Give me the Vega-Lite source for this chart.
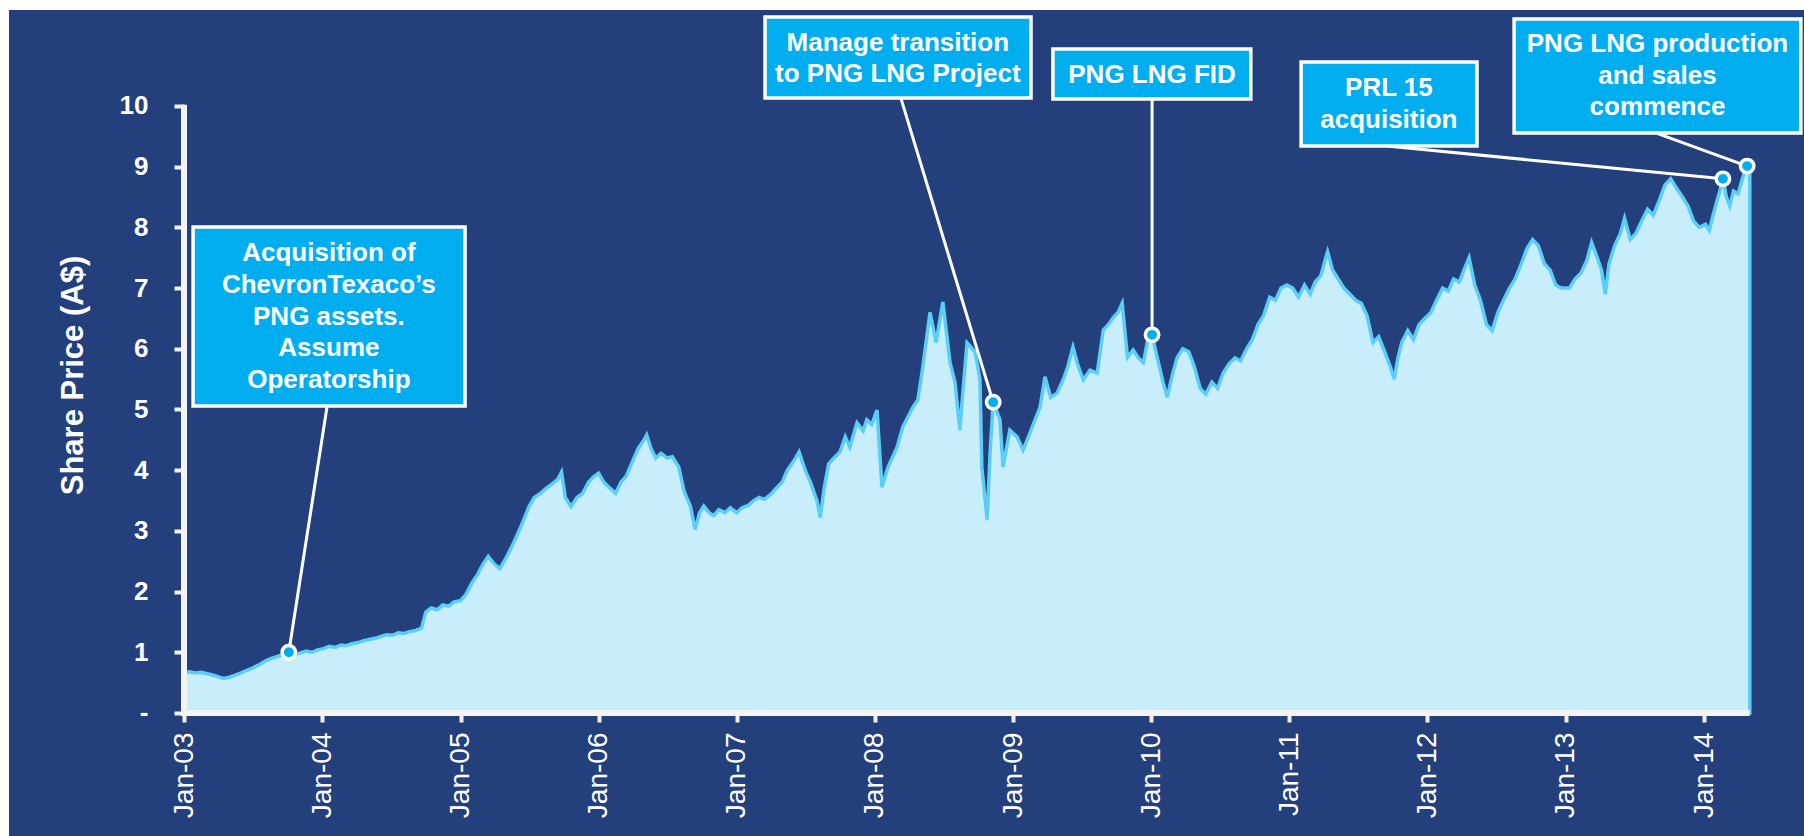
{
  "$schema": "https://vega.github.io/schema/vega-lite/v6.json",
  "width": 1795,
  "height": 826,
  "autosize": {"type": "none"},
  "padding": {"left": 9, "top": 10, "right": 0, "bottom": 0},
  "background": "#ffffff",
  "config": {
    "view": {"fill": "#24407C", "stroke": null},
    "font": "Liberation Sans"
  },
  "datasets": {
    "series": [
      {"d":"2003-01-02","p":0.66},{"d":"2003-01-15","p":0.68},{"d":"2003-02-01","p":0.66},{"d":"2003-02-15","p":0.67},
      {"d":"2003-03-01","p":0.65},{"d":"2003-03-15","p":0.63},{"d":"2003-04-01","p":0.60},{"d":"2003-04-15","p":0.57},
      {"d":"2003-05-01","p":0.59},{"d":"2003-05-15","p":0.62},{"d":"2003-06-01","p":0.66},{"d":"2003-06-15","p":0.70},
      {"d":"2003-07-01","p":0.74},{"d":"2003-07-20","p":0.80},{"d":"2003-08-05","p":0.86},{"d":"2003-08-20","p":0.90},
      {"d":"2003-09-05","p":0.93},{"d":"2003-09-20","p":0.96},{"d":"2003-10-05","p":1.00},{"d":"2003-10-20","p":0.97},
      {"d":"2003-11-05","p":0.99},{"d":"2003-11-20","p":1.02},{"d":"2003-12-05","p":1.00},{"d":"2003-12-20","p":1.04},
      {"d":"2004-01-05","p":1.06},{"d":"2004-01-20","p":1.10},{"d":"2004-02-05","p":1.08},{"d":"2004-02-20","p":1.12},
      {"d":"2004-03-05","p":1.11},{"d":"2004-03-20","p":1.14},{"d":"2004-04-05","p":1.16},{"d":"2004-04-20","p":1.19},
      {"d":"2004-05-05","p":1.21},{"d":"2004-05-20","p":1.23},{"d":"2004-06-05","p":1.26},{"d":"2004-06-20","p":1.29},
      {"d":"2004-07-05","p":1.28},{"d":"2004-07-20","p":1.32},{"d":"2004-08-05","p":1.31},{"d":"2004-08-20","p":1.34},
      {"d":"2004-09-05","p":1.36},{"d":"2004-09-20","p":1.40},{"d":"2004-10-01","p":1.66},{"d":"2004-10-15","p":1.73},
      {"d":"2004-11-01","p":1.70},{"d":"2004-11-15","p":1.78},{"d":"2004-12-01","p":1.76},{"d":"2004-12-15","p":1.83},
      {"d":"2005-01-01","p":1.85},{"d":"2005-01-15","p":1.95},{"d":"2005-02-01","p":2.15},{"d":"2005-02-15","p":2.28},
      {"d":"2005-03-01","p":2.45},{"d":"2005-03-15","p":2.58},{"d":"2005-04-01","p":2.45},{"d":"2005-04-15","p":2.38},
      {"d":"2005-05-01","p":2.55},{"d":"2005-05-15","p":2.72},{"d":"2005-06-01","p":2.95},{"d":"2005-06-15","p":3.15},
      {"d":"2005-07-01","p":3.40},{"d":"2005-07-15","p":3.55},{"d":"2005-08-01","p":3.62},{"d":"2005-08-15","p":3.70},
      {"d":"2005-09-01","p":3.78},{"d":"2005-09-15","p":3.85},{"d":"2005-09-25","p":3.97},{"d":"2005-10-05","p":3.55},
      {"d":"2005-10-20","p":3.40},{"d":"2005-11-05","p":3.55},{"d":"2005-11-20","p":3.62},{"d":"2005-12-05","p":3.80},
      {"d":"2005-12-20","p":3.90},
      {"d":"2006-01-01","p":3.95},{"d":"2006-01-15","p":3.80},{"d":"2006-02-01","p":3.70},{"d":"2006-02-15","p":3.62},
      {"d":"2006-03-01","p":3.80},{"d":"2006-03-15","p":3.90},{"d":"2006-04-01","p":4.15},{"d":"2006-04-15","p":4.35},
      {"d":"2006-05-01","p":4.50},{"d":"2006-05-08","p":4.58},{"d":"2006-05-20","p":4.35},{"d":"2006-06-01","p":4.20},
      {"d":"2006-06-15","p":4.28},{"d":"2006-07-01","p":4.20},{"d":"2006-07-15","p":4.22},{"d":"2006-08-01","p":4.05},
      {"d":"2006-08-15","p":3.65},{"d":"2006-09-01","p":3.40},{"d":"2006-09-13","p":3.02},{"d":"2006-09-25","p":3.30},
      {"d":"2006-10-06","p":3.41},{"d":"2006-10-20","p":3.30},{"d":"2006-11-01","p":3.25},{"d":"2006-11-15","p":3.35},
      {"d":"2006-12-01","p":3.30},{"d":"2006-12-15","p":3.38},
      {"d":"2007-01-01","p":3.30},{"d":"2007-01-15","p":3.38},{"d":"2007-02-01","p":3.42},{"d":"2007-02-15","p":3.50},
      {"d":"2007-03-01","p":3.55},{"d":"2007-03-15","p":3.52},{"d":"2007-04-01","p":3.60},{"d":"2007-04-15","p":3.70},
      {"d":"2007-05-01","p":3.80},{"d":"2007-05-15","p":4.00},{"d":"2007-06-01","p":4.15},{"d":"2007-06-15","p":4.30},
      {"d":"2007-07-01","p":4.00},{"d":"2007-07-15","p":3.80},{"d":"2007-08-01","p":3.50},{"d":"2007-08-10","p":3.22},
      {"d":"2007-08-20","p":3.70},{"d":"2007-09-01","p":4.10},{"d":"2007-09-15","p":4.20},{"d":"2007-10-01","p":4.30},
      {"d":"2007-10-15","p":4.55},{"d":"2007-10-27","p":4.38},{"d":"2007-11-15","p":4.78},{"d":"2007-12-01","p":4.65},
      {"d":"2007-12-11","p":4.83},{"d":"2007-12-24","p":4.75},
      {"d":"2008-01-07","p":4.99},{"d":"2008-01-20","p":3.72},{"d":"2008-02-05","p":4.05},{"d":"2008-02-29","p":4.38},
      {"d":"2008-03-15","p":4.71},{"d":"2008-04-11","p":5.04},{"d":"2008-04-24","p":5.16},{"d":"2008-05-07","p":5.70},
      {"d":"2008-05-26","p":6.60},{"d":"2008-06-11","p":6.10},{"d":"2008-06-29","p":6.77},{"d":"2008-07-18","p":5.77},
      {"d":"2008-07-31","p":5.45},{"d":"2008-08-13","p":4.66},{"d":"2008-08-21","p":5.30},{"d":"2008-09-01","p":6.10},
      {"d":"2008-09-22","p":5.95},{"d":"2008-10-05","p":5.50},{"d":"2008-10-10","p":4.05},{"d":"2008-10-24","p":3.18},
      {"d":"2008-11-01","p":4.30},{"d":"2008-11-09","p":5.12},{"d":"2008-11-27","p":4.83},{"d":"2008-12-05","p":4.05},
      {"d":"2008-12-23","p":4.66},
      {"d":"2009-01-11","p":4.55},{"d":"2009-01-27","p":4.33},{"d":"2009-02-14","p":4.61},{"d":"2009-03-13","p":5.04},
      {"d":"2009-03-26","p":5.54},{"d":"2009-04-10","p":5.20},{"d":"2009-04-27","p":5.27},{"d":"2009-05-13","p":5.49},
      {"d":"2009-05-25","p":5.70},{"d":"2009-06-08","p":6.03},{"d":"2009-06-20","p":5.75},{"d":"2009-07-05","p":5.49},
      {"d":"2009-07-23","p":5.65},{"d":"2009-08-11","p":5.60},{"d":"2009-08-27","p":6.31},{"d":"2009-09-10","p":6.40},
      {"d":"2009-09-23","p":6.52},{"d":"2009-10-05","p":6.60},{"d":"2009-10-16","p":6.75},{"d":"2009-10-30","p":5.86},
      {"d":"2009-11-14","p":5.98},{"d":"2009-11-28","p":5.85},{"d":"2009-12-11","p":5.77},{"d":"2009-12-24","p":6.19},
      {"d":"2010-01-03","p":6.23},{"d":"2010-01-15","p":5.90},{"d":"2010-02-01","p":5.45},{"d":"2010-02-12","p":5.20},
      {"d":"2010-02-25","p":5.55},{"d":"2010-03-10","p":5.85},{"d":"2010-03-25","p":6.00},{"d":"2010-04-10","p":5.95},
      {"d":"2010-04-25","p":5.70},{"d":"2010-05-10","p":5.35},{"d":"2010-05-25","p":5.25},{"d":"2010-06-10","p":5.45},
      {"d":"2010-06-25","p":5.35},{"d":"2010-07-10","p":5.60},{"d":"2010-07-25","p":5.75},{"d":"2010-08-10","p":5.85},
      {"d":"2010-08-25","p":5.80},{"d":"2010-09-10","p":6.00},{"d":"2010-09-25","p":6.15},{"d":"2010-10-10","p":6.40},
      {"d":"2010-10-25","p":6.55},{"d":"2010-11-10","p":6.85},{"d":"2010-11-25","p":6.80},{"d":"2010-12-10","p":7.00},
      {"d":"2010-12-25","p":7.05},
      {"d":"2011-01-10","p":7.00},{"d":"2011-01-25","p":6.85},{"d":"2011-02-10","p":7.05},{"d":"2011-02-25","p":6.90},
      {"d":"2011-03-10","p":7.10},{"d":"2011-03-25","p":7.20},{"d":"2011-04-05","p":7.45},{"d":"2011-04-12","p":7.60},
      {"d":"2011-04-25","p":7.30},{"d":"2011-05-10","p":7.15},{"d":"2011-05-25","p":7.00},{"d":"2011-06-10","p":6.90},
      {"d":"2011-06-25","p":6.80},{"d":"2011-07-10","p":6.75},{"d":"2011-07-25","p":6.55},{"d":"2011-08-10","p":6.10},
      {"d":"2011-08-25","p":6.20},{"d":"2011-09-10","p":5.95},{"d":"2011-09-25","p":5.70},{"d":"2011-10-05","p":5.50},
      {"d":"2011-10-15","p":5.85},{"d":"2011-10-25","p":6.10},{"d":"2011-11-10","p":6.30},{"d":"2011-11-25","p":6.15},
      {"d":"2011-12-10","p":6.40},{"d":"2011-12-25","p":6.50},
      {"d":"2012-01-10","p":6.60},{"d":"2012-01-25","p":6.80},{"d":"2012-02-10","p":7.00},{"d":"2012-02-25","p":6.95},
      {"d":"2012-03-10","p":7.15},{"d":"2012-03-25","p":7.10},{"d":"2012-04-10","p":7.35},{"d":"2012-04-20","p":7.50},
      {"d":"2012-05-05","p":7.05},{"d":"2012-05-20","p":6.80},{"d":"2012-06-05","p":6.40},{"d":"2012-06-20","p":6.30},
      {"d":"2012-07-05","p":6.60},{"d":"2012-07-20","p":6.80},{"d":"2012-08-05","p":7.00},{"d":"2012-08-20","p":7.15},
      {"d":"2012-09-05","p":7.40},{"d":"2012-09-20","p":7.65},{"d":"2012-10-05","p":7.80},{"d":"2012-10-20","p":7.70},
      {"d":"2012-11-05","p":7.40},{"d":"2012-11-20","p":7.30},{"d":"2012-12-05","p":7.05},{"d":"2012-12-20","p":7.00},
      {"d":"2013-01-10","p":7.00},{"d":"2013-01-25","p":7.15},{"d":"2013-02-10","p":7.25},{"d":"2013-02-25","p":7.45},
      {"d":"2013-03-10","p":7.75},{"d":"2013-03-25","p":7.50},{"d":"2013-04-05","p":7.30},{"d":"2013-04-15","p":6.90},
      {"d":"2013-04-25","p":7.40},{"d":"2013-05-10","p":7.70},{"d":"2013-05-25","p":7.90},{"d":"2013-06-05","p":8.15},
      {"d":"2013-06-20","p":7.80},{"d":"2013-07-05","p":7.90},{"d":"2013-07-20","p":8.10},{"d":"2013-08-05","p":8.30},
      {"d":"2013-08-20","p":8.20},{"d":"2013-09-05","p":8.45},{"d":"2013-09-20","p":8.70},{"d":"2013-10-05","p":8.80},
      {"d":"2013-10-20","p":8.65},{"d":"2013-11-05","p":8.50},{"d":"2013-11-20","p":8.35},{"d":"2013-12-05","p":8.10},
      {"d":"2013-12-20","p":8.00},
      {"d":"2014-01-05","p":8.05},{"d":"2014-01-15","p":7.95},{"d":"2014-01-25","p":8.20},{"d":"2014-02-05","p":8.45},
      {"d":"2014-02-12","p":8.60},{"d":"2014-02-20","p":8.80},{"d":"2014-03-01","p":8.50},{"d":"2014-03-10","p":8.35},
      {"d":"2014-03-20","p":8.60},{"d":"2014-04-01","p":8.55},{"d":"2014-04-10","p":8.75},{"d":"2014-04-20","p":8.95},
      {"d":"2014-04-25","p":9.01},{"d":"2014-05-02","p":9.02}
    ],
    "axisLines": [
      {"x1":"2003-01-01","x2":"2003-01-01","y1":-0.05,"y2":10.02},
      {"x1":"2002-12-24","x2":"2014-05-02","y1":0,"y2":0}
    ],
    "connectors": [
      {"x1":"2004-01-14","y1":5.04,"x2":"2003-10-05","y2":1.00},
      {"x1":"2008-03-10","y1":10.13,"x2":"2008-11-09","y2":5.12},
      {"x1":"2010-01-03","y1":10.11,"x2":"2010-01-03","y2":6.23},
      {"x1":"2011-09-16","y1":9.34,"x2":"2014-02-20","y2":8.80},
      {"x1":"2013-08-30","y1":9.55,"x2":"2014-04-25","y2":9.01}
    ],
    "boxes": [
      {"x1":"2003-01-25","x2":"2005-01-13","y1":5.058,"y2":8.007},
      {"x1":"2007-03-17","x2":"2009-02-17","y1":10.132,"y2":11.466},
      {"x1":"2009-04-16","x2":"2010-09-21","y1":10.115,"y2":10.939},
      {"x1":"2011-02-01","x2":"2012-05-11","y1":9.341,"y2":10.725},
      {"x1":"2012-08-17","x2":"2014-09-14","y1":9.555,"y2":11.433}
    ],
    "labels": [
      {"d":"2004-01-19","p":7.586,"t":"Acquisition of"},
      {"d":"2004-01-19","p":7.059,"t":"ChevronTexaco’s"},
      {"d":"2004-01-19","p":6.532,"t":"PNG assets."},
      {"d":"2004-01-19","p":6.005,"t":"Assume"},
      {"d":"2004-01-19","p":5.478,"t":"Operatorship"},
      {"d":"2008-03-02","p":11.038,"t":"Manage transition"},
      {"d":"2008-03-02","p":10.527,"t":"to PNG LNG Project"},
      {"d":"2010-01-03","p":10.511,"t":"PNG LNG FID"},
      {"d":"2011-09-21","p":10.297,"t":"PRL 15"},
      {"d":"2011-09-21","p":9.769,"t":"acquisition"},
      {"d":"2013-08-31","p":11.021,"t":"PNG LNG production"},
      {"d":"2013-08-31","p":10.494,"t":"and sales"},
      {"d":"2013-08-31","p":9.984,"t":"commence"}
    ],
    "points": [
      {"d":"2003-10-05","p":1.00},
      {"d":"2008-11-09","p":5.12},
      {"d":"2010-01-03","p":6.23},
      {"d":"2014-02-20","p":8.80},
      {"d":"2014-04-25","p":9.01}
    ]
  },
  "layer": [
    {
      "data": {"name": "series"},
      "mark": {"type": "area", "fill": "#C8EEFC", "stroke": "#5BCEF8", "strokeWidth": 3.5, "interpolate": "linear"},
      "encoding": {
        "x": {
          "field": "d", "type": "temporal",
          "scale": {"type": "utc", "domain": [1001410673675, 1411373557980], "nice": false},
          "axis": {
            "orient": "bottom",
            "offset": -123,
            "values": [
              {"year":2003,"month":1,"date":1,"utc":true},{"year":2004,"month":1,"date":1,"utc":true},
              {"year":2005,"month":1,"date":1,"utc":true},{"year":2006,"month":1,"date":1,"utc":true},
              {"year":2007,"month":1,"date":1,"utc":true},{"year":2008,"month":1,"date":1,"utc":true},
              {"year":2009,"month":1,"date":1,"utc":true},{"year":2010,"month":1,"date":1,"utc":true},
              {"year":2011,"month":1,"date":1,"utc":true},{"year":2012,"month":1,"date":1,"utc":true},
              {"year":2013,"month":1,"date":1,"utc":true},{"year":2014,"month":1,"date":1,"utc":true}
            ],
            "labelExpr": "utcFormat(datum.value, '%b-%y')",
            "labelAngle": 270,
            "labelFont": "Liberation Sans",
            "labelFontSize": 28,
            "labelColor": "#ffffff",
            "labelPadding": 10,
            "labelOverlap": false,
            "labelFlush": false,
            "tickSize": 9,
            "tickWidth": 4,
            "tickColor": "#F2F2F2",
            "domain": false,
            "grid": false,
            "title": null
          }
        },
        "y": {
          "field": "p", "type": "quantitative",
          "scale": {"domain": [-2.0264, 11.5815], "nice": false, "zero": false},
          "axis": {
            "orient": "left",
            "offset": -175,
            "values": [0,1,2,3,4,5,6,7,8,9,10],
            "labelExpr": "datum.value === 0 ? '-\u00a0\u00a0' : format(datum.value, 'd')",
            "labelFont": "Liberation Sans",
            "labelFontSize": 26,
            "labelFontWeight": "bold",
            "labelColor": "#ffffff",
            "labelPadding": 26,
            "tickSize": 10,
            "tickWidth": 4,
            "tickColor": "#F2F2F2",
            "domain": false,
            "grid": false,
            "title": "Share Price (A$)",
            "titleFont": "Liberation Sans",
            "titleFontSize": 31,
            "titleFontWeight": "bold",
            "titleColor": "#ffffff",
            "titleAngle": 270,
            "titleAlign": "center",
            "titleBaseline": "alphabetic",
            "titleX": -102,
            "titleY": 365
          }
        },
        "y2": {"datum": 0}
      }
    },
    {
      "data": {"name": "axisLines"},
      "mark": {"type": "rule", "color": "#F4F4F4", "strokeWidth": 6},
      "encoding": {
        "x": {"field": "x1", "type": "temporal"},
        "x2": {"field": "x2"},
        "y": {"field": "y1", "type": "quantitative"},
        "y2": {"field": "y2"}
      }
    },
    {
      "data": {"name": "connectors"},
      "mark": {"type": "rule", "color": "#ffffff", "strokeWidth": 3},
      "encoding": {
        "x": {"field": "x1", "type": "temporal"},
        "x2": {"field": "x2"},
        "y": {"field": "y1", "type": "quantitative"},
        "y2": {"field": "y2"}
      }
    },
    {
      "data": {"name": "boxes"},
      "mark": {"type": "rect", "fill": "#00AEEF", "stroke": "#ffffff", "strokeWidth": 3.5},
      "encoding": {
        "x": {"field": "x1", "type": "temporal"},
        "x2": {"field": "x2"},
        "y": {"field": "y1", "type": "quantitative"},
        "y2": {"field": "y2"}
      }
    },
    {
      "data": {"name": "labels"},
      "mark": {"type": "text", "font": "Liberation Sans", "fontSize": 26, "fontWeight": "bold", "color": "#ffffff", "align": "center", "baseline": "middle"},
      "encoding": {
        "x": {"field": "d", "type": "temporal"},
        "y": {"field": "p", "type": "quantitative"},
        "text": {"field": "t"}
      }
    },
    {
      "data": {"name": "points"},
      "mark": {"type": "point", "shape": "circle", "filled": true, "fill": "#00AEEF", "stroke": "#ffffff", "strokeWidth": 3.5, "size": 180, "opacity": 1},
      "encoding": {
        "x": {"field": "d", "type": "temporal"},
        "y": {"field": "p", "type": "quantitative"}
      }
    }
  ]
}
